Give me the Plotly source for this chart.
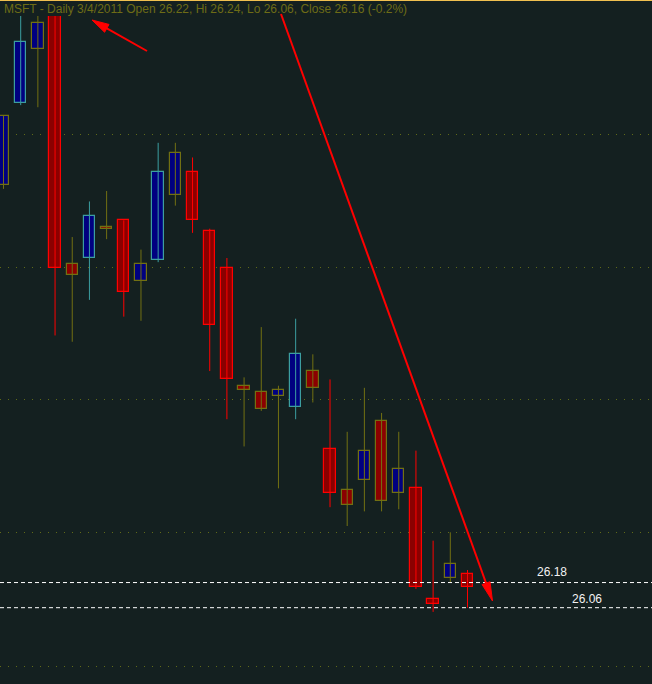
import plotly.graph_objects as go

# ---- data ----
dates = ["2011-01-25", "2011-01-26", "2011-01-27", "2011-01-28", "2011-01-31",
         "2011-02-01", "2011-02-02", "2011-02-03", "2011-02-04", "2011-02-07",
         "2011-02-08", "2011-02-09", "2011-02-10", "2011-02-11", "2011-02-14",
         "2011-02-15", "2011-02-16", "2011-02-17", "2011-02-18", "2011-02-22",
         "2011-02-23", "2011-02-24", "2011-02-25", "2011-02-28", "2011-03-01",
         "2011-03-02", "2011-03-03", "2011-03-04"]
opens = [28.08, 28.47, 28.73, 28.93, 27.70, 27.73, 27.88, 27.91, 27.62, 27.72,
         28.03, 28.14, 27.86, 27.68, 27.12, 27.09, 27.07, 27.02, 27.19, 26.82,
         26.62, 26.67, 26.95, 26.61, 26.63, 26.10, 26.20, 26.22]
highs = [28.41, 28.95, 28.95, 28.96, 27.83, 28.00, 28.05, 27.91, 27.77, 28.28,
         28.28, 28.21, 27.87, 27.73, 27.16, 27.40, 27.12, 27.44, 27.27, 27.15,
         26.90, 27.11, 26.99, 26.90, 26.81, 26.38, 26.42, 26.24]
lows = [28.06, 28.46, 28.45, 27.36, 27.33, 27.53, 27.82, 27.45, 27.43, 27.71,
        27.98, 27.85, 27.19, 26.96, 26.83, 27.00, 26.63, 26.96, 27.04, 26.54,
        26.45, 26.52, 26.52, 26.53, 26.15, 26.04, 26.18, 26.06]
closes = [28.41, 28.76, 28.85, 27.68, 27.65, 27.93, 27.87, 27.57, 27.70, 28.14,
          28.23, 27.91, 27.41, 27.15, 27.10, 27.01, 27.10, 27.27, 27.11, 26.61,
          26.55, 26.81, 26.57, 26.72, 26.16, 26.08, 26.27, 26.16]
# bars drawn with a highlighted (teal / red) outline in the picture
emphasis = [0, 1, 0, 1, 0, 1, 0, 1, 0, 1, 0, 1, 1, 1, 0, 0, 0, 1, 0, 1,
            0, 0, 0, 0, 1, 1, 0, 1]
grid_levels = [25.777, 26.417, 27.052, 27.687, 28.322]
price_lines = [26.18, 26.06]
title_text = "MSFT - Daily 3/4/2011 Open 26.22, Hi 26.24, Lo 26.06, Close 26.16 (-0.2%)"

# ---- styles ----
W, H = 652, 684
BG = "#142020"
UP_FILL, DN_FILL = "#000080", "#8b0000"
TEAL, RED, OLIVE = "#3c9ea0", "#ff0000", "#727012"


def edge_color(i):
    up = closes[i] >= opens[i]
    if emphasis[i]:
        return TEAL if up else RED
    return OLIVE


colors = [edge_color(i) for i in range(len(dates))]
fills = [UP_FILL if c >= o else DN_FILL for o, c in zip(opens, closes)]

fig = go.Figure()

# wicks, grouped by colour
for col in (OLIVE, TEAL, RED):
    xs, ys = [], []
    for i, d in enumerate(dates):
        if colors[i] == col:
            xs += [d, d, None]
            ys += [lows[i], highs[i], None]
    fig.add_trace(go.Scatter(x=xs, y=ys, mode="lines",
                             line=dict(color=col, width=1),
                             hoverinfo="skip", showlegend=False))

# bodies
fig.add_trace(go.Bar(
    x=dates,
    base=[min(o, c) for o, c in zip(opens, closes)],
    y=[max(abs(c - o), 0.004) for o, c in zip(opens, closes)],
    width=0.66,
    marker=dict(color=fills, line=dict(color=colors, width=1.2)),
    showlegend=False,
    customdata=list(zip(opens, highs, lows, closes)),
    hovertemplate="%{x}<br>O %{customdata[0]}<br>H %{customdata[1]}"
                  "<br>L %{customdata[2]}<br>C %{customdata[3]}<extra></extra>",
))

# pixel helpers for decorations
def px(x):
    return x / W


def py(y):
    return 1 - y / H


top_px = 16
y_top = 26.24 + (570 - top_px) / 209.4
y_bot = 26.24 + (570 - H) / 209.4
x_lo = -3.5 / 17.185
x_hi = x_lo + W / 17.185

shapes = []
# price lines
for lvl in price_lines:
    shapes.append(dict(type="line", xref="paper", yref="y", x0=0, x1=1,
                       y0=lvl, y1=lvl, layer="above",
                       line=dict(color="#ffffff", width=1, dash="4px,3px")))
# top yellow border
shapes.append(dict(type="line", xref="paper", yref="paper", x0=0, x1=1,
                   y0=py(0.5), y1=py(0.5), line=dict(color="#f0c050", width=1)))


def arrow(tail, tip, head_len, half_w):
    (x0, y0), (x1, y1) = tail, tip
    dx, dy = x1 - x0, y1 - y0
    L = (dx * dx + dy * dy) ** 0.5
    ux, uy = dx / L, dy / L
    bx, by = x1 - ux * head_len, y1 - uy * head_len
    nx, ny = -uy, ux
    s = [dict(type="line", xref="paper", yref="paper",
              x0=px(x0), y0=py(y0), x1=px(bx + ux * 2), y1=py(by + uy * 2),
              line=dict(color=RED, width=2), layer="above")]
    p1 = (bx + nx * half_w, by + ny * half_w)
    p2 = (bx - nx * half_w, by - ny * half_w)
    path = "M {} {} L {} {} L {} {} Z".format(px(x1), py(y1), px(p1[0]), py(p1[1]),
                                            px(p2[0]), py(p2[1]))
    s.append(dict(type="path", xref="paper", yref="paper", path=path,
                  fillcolor=RED, line=dict(color=RED, width=1), layer="above"))
    return s


shapes += arrow((147, 51), (92, 20), 17, 4.5)
shapes += arrow((281, 14), (492.5, 601), 19, 4.2)

annotations = [
    dict(text=title_text, xref="paper", yref="paper", x=px(2), y=py(8.5),
         xanchor="left", yanchor="middle", showarrow=False,
         font=dict(family="Liberation Sans, Arial, sans-serif", size=12,
                   color="#6e6c16")),
    dict(text="26.18", xref="paper", yref="y", x=px(534.5), y=price_lines[0],
         xanchor="left", yanchor="bottom", yshift=2, showarrow=False,
         font=dict(family="Liberation Sans, Arial, sans-serif", size=12,
                   color="#f2f2f2")),
    dict(text="26.06", xref="paper", yref="y", x=px(569.5), y=price_lines[1],
         xanchor="left", yanchor="bottom", yshift=0, showarrow=False,
         font=dict(family="Liberation Sans, Arial, sans-serif", size=12,
                   color="#f2f2f2")),
]

fig.update_layout(
    width=W, height=H,
    margin=dict(l=0, r=0, t=0, b=0, pad=0),
    paper_bgcolor=BG, plot_bgcolor=BG,
    showlegend=False,
    bargap=0, barmode="overlay",
    shapes=shapes, annotations=annotations,
    xaxis=dict(type="category", categoryorder="array", categoryarray=dates,
               range=[x_lo, x_hi], visible=False, fixedrange=True),
    yaxis=dict(range=[y_bot, y_top], domain=[0, 1 - top_px / H],
               tickvals=grid_levels, showticklabels=False, ticks="",
               showgrid=True, gridcolor="#606a18", gridwidth=1,
               griddash="1px,7px", zeroline=False, showline=False,
               fixedrange=True),
)

fig.write_html(
    "out.html",
    config={"displayModeBar": False},
    post_script="document.body.style.margin='0';document.body.style.background='%s';" % BG,
)
